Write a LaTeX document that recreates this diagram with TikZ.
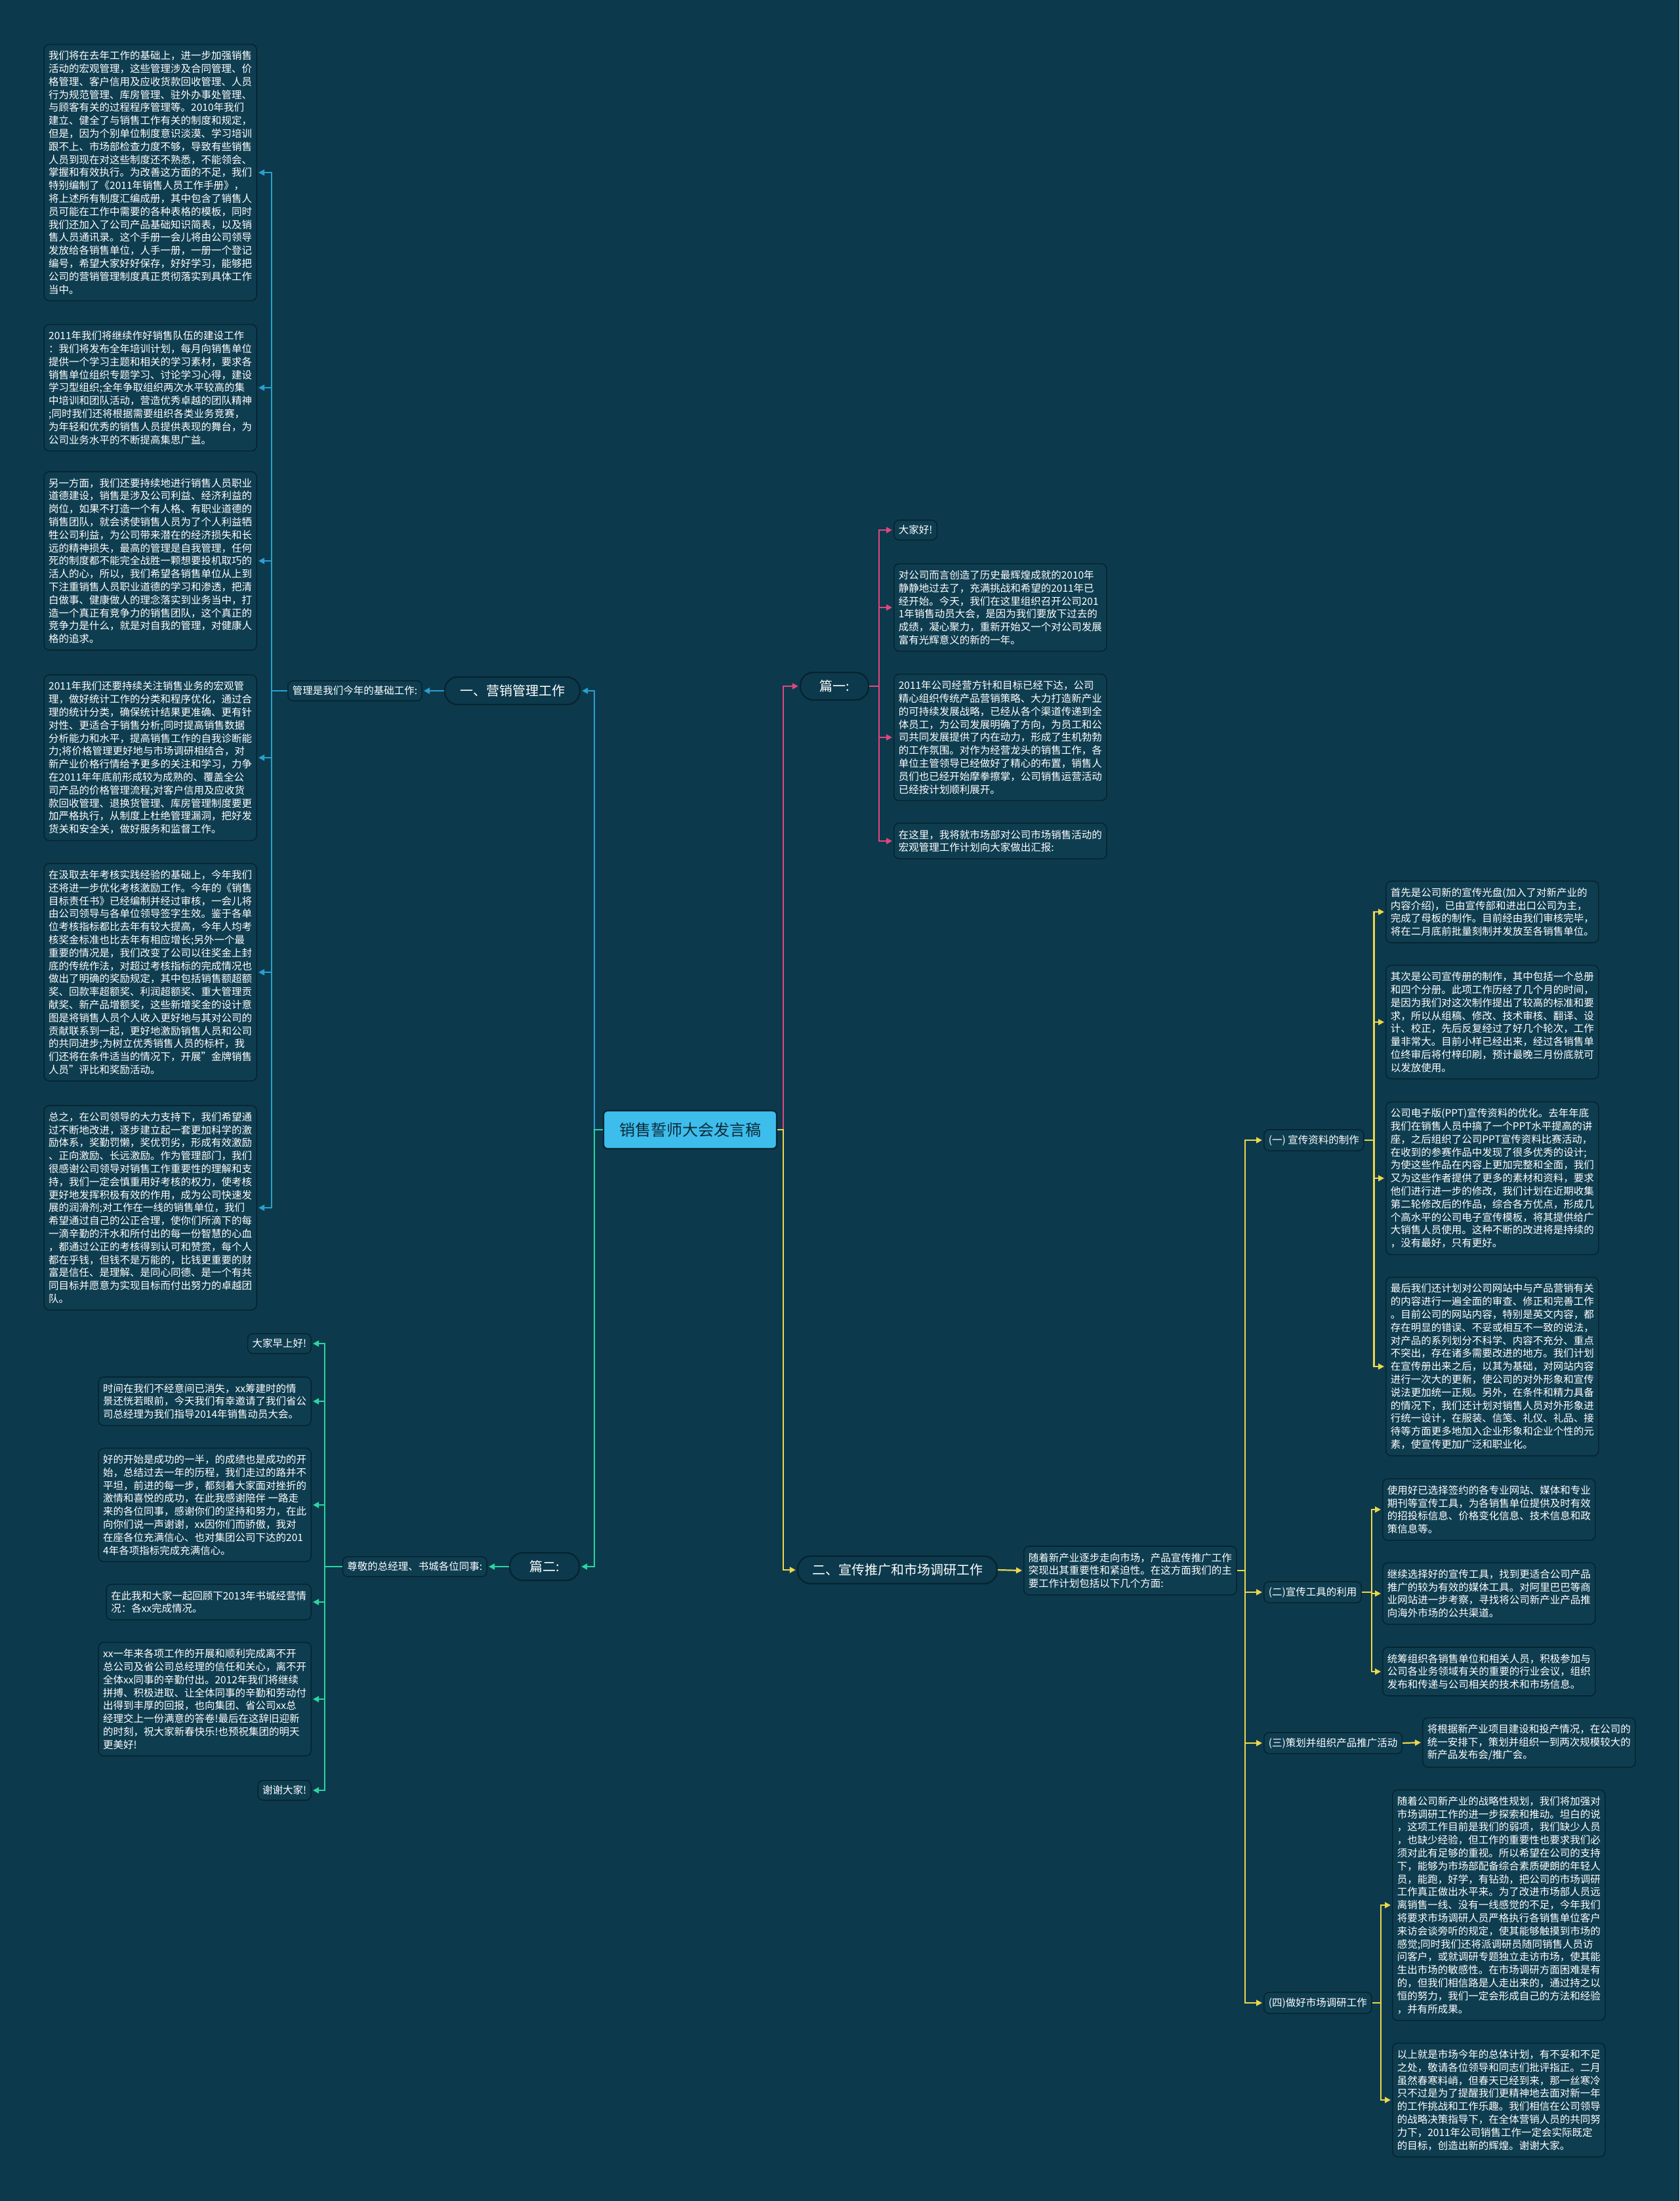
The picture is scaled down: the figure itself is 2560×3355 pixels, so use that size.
\documentclass[tikz,border=0pt]{standalone}
\usepackage{fontspec}
\setmainfont{Noto Sans CJK SC}
\usetikzlibrary{arrows.meta}
\definecolor{bgc}{HTML}{0C3A4C}
\definecolor{boxf}{HTML}{0F3D50}
\definecolor{boxd}{HTML}{072431}
\definecolor{cblue}{HTML}{2A9FD0}
\definecolor{cpink}{HTML}{E4457E}
\definecolor{cyel}{HTML}{EFD64C}
\definecolor{cgreen}{HTML}{2DD4A0}
\definecolor{cfill}{HTML}{3DBDEB}
\definecolor{ctxt}{HTML}{0D2A3A}
\begin{document}
\begin{tikzpicture}[x=0.5pt,y=-0.5pt,
 blk/.style={draw=boxd, line width=0.8pt, fill=boxf, rounded corners=4pt, text=white,
   font=\fontsize{7.75pt}{9.9pt}\selectfont, align=left, inner xsep=3.5pt, inner ysep=5pt},
 lbl/.style={blk, inner ysep=4pt},
 pill/.style={rectangle, rounded corners=10pt, draw=boxd, line width=1.2pt, fill=bgc, text=white,
   font=\fontsize{10pt}{12pt}\selectfont, minimum height=21pt, inner xsep=11pt},
 arr/.style={line width=1.1pt, -{Triangle[length=4.5pt,width=4.5pt]}, shorten >=1pt},
 pl/.style={line width=1.1pt},
]
\fill[bgc] (0,0) rectangle (2560,3355);
\useasboundingbox (0,0) rectangle (2560,3355);

% junction x positions
\coordinate (jL) at (906,0);
\coordinate (jR) at (1194,0);
\coordinate (jLeft) at (414,0);
\coordinate (jP1) at (1340,0);
\coordinate (jY) at (1898,0);
\coordinate (jG) at (495,0);

% center
\node[draw=boxd, line width=1.2pt, fill=cfill, text=ctxt, rounded corners=3pt,
  font=\fontsize{12pt}{14pt}\selectfont, minimum width=132pt, minimum height=29pt] (ctr) at (1052,1722) {销售誓师大会发言稿};

% ===== blue branch =====
\node[pill, minimum width=103pt] (yx) at (781,1053) {一、营销管理工作};
\node[lbl, anchor=east] (gl) at (644,1053) {管理是我们今年的基础工作:};

\node[blk, anchor=east] (b1) at (392,263) {我们将在去年工作的基础上，进一步加强销售\\活动的宏观管理，这些管理涉及合同管理、价\\格管理、客户信用及应收货款回收管理、人员\\行为规范管理、库房管理、驻外办事处管理、\\与顾客有关的过程程序管理等。2010年我们\\建立、健全了与销售工作有关的制度和规定，\\但是，因为个别单位制度意识淡漠、学习培训\\跟不上、市场部检查力度不够，导致有些销售\\人员到现在对这些制度还不熟悉，不能领会、\\掌握和有效执行。为改善这方面的不足，我们\\特别编制了《2011年销售人员工作手册》，\\将上述所有制度汇编成册，其中包含了销售人\\员可能在工作中需要的各种表格的模板，同时\\我们还加入了公司产品基础知识简表，以及销\\售人员通讯录。这个手册一会儿将由公司领导\\发放给各销售单位，人手一册，一册一个登记\\编号，希望大家好好保存，好好学习，能够把\\公司的营销管理制度真正贯彻落实到具体工作\\当中。};

\node[blk, anchor=east] (b2) at (392,591) {2011年我们将继续作好销售队伍的建设工作\\：我们将发布全年培训计划，每月向销售单位\\提供一个学习主题和相关的学习素材，要求各\\销售单位组织专题学习、讨论学习心得，建设\\学习型组织;全年争取组织两次水平较高的集\\中培训和团队活动，营造优秀卓越的团队精神\\;同时我们还将根据需要组织各类业务竞赛，\\为年轻和优秀的销售人员提供表现的舞台，为\\公司业务水平的不断提高集思广益。};

\node[blk, anchor=east] (b3) at (392,855) {另一方面，我们还要持续地进行销售人员职业\\道德建设，销售是涉及公司利益、经济利益的\\岗位，如果不打造一个有人格、有职业道德的\\销售团队，就会诱使销售人员为了个人利益牺\\牲公司利益，为公司带来潜在的经济损失和长\\远的精神损失，最高的管理是自我管理，任何\\死的制度都不能完全战胜一颗想要投机取巧的\\活人的心，所以，我们希望各销售单位从上到\\下注重销售人员职业道德的学习和渗透，把清\\白做事、健康做人的理念落实到业务当中，打\\造一个真正有竞争力的销售团队，这个真正的\\竞争力是什么，就是对自我的管理，对健康人\\格的追求。};

\node[blk, anchor=east] (b4) at (392,1155) {2011年我们还要持续关注销售业务的宏观管\\理，做好统计工作的分类和程序优化，通过合\\理的统计分类，确保统计结果更准确、更有针\\对性、更适合于销售分析;同时提高销售数据\\分析能力和水平，提高销售工作的自我诊断能\\力;将价格管理更好地与市场调研相结合，对\\新产业价格行情给予更多的关注和学习，力争\\在2011年年底前形成较为成熟的、覆盖全公\\司产品的价格管理流程;对客户信用及应收货\\款回收管理、退换货管理、库房管理制度要更\\加严格执行，从制度上杜绝管理漏洞，把好发\\货关和安全关，做好服务和监督工作。};

\node[blk, anchor=east] (b5) at (392,1482) {在汲取去年考核实践经验的基础上，今年我们\\还将进一步优化考核激励工作。今年的《销售\\目标责任书》已经编制并经过审核，一会儿将\\由公司领导与各单位领导签字生效。鉴于各单\\位考核指标都比去年有较大提高，今年人均考\\核奖金标准也比去年有相应增长;另外一个最\\重要的情况是，我们改变了公司以往奖金上封\\底的传统作法，对超过考核指标的完成情况也\\做出了明确的奖励规定，其中包括销售额超额\\奖、回款率超额奖、利润超额奖、重大管理贡\\献奖、新产品增额奖，这些新增奖金的设计意\\图是将销售人员个人收入更好地与其对公司的\\贡献联系到一起，更好地激励销售人员和公司\\的共同进步;为树立优秀销售人员的标杆，我\\们还将在条件适当的情况下，开展"金牌销售\\人员"评比和奖励活动。};

\node[blk, anchor=east] (b6) at (392,1841) {总之，在公司领导的大力支持下，我们希望通\\过不断地改进，逐步建立起一套更加科学的激\\励体系，奖勤罚懒，奖优罚劣，形成有效激励\\、正向激励、长远激励。作为管理部门，我们\\很感谢公司领导对销售工作重要性的理解和支\\持，我们一定会慎重用好考核的权力，使考核\\更好地发挥积极有效的作用，成为公司快速发\\展的润滑剂;对工作在一线的销售单位，我们\\希望通过自己的公正合理，使你们所滴下的每\\一滴辛勤的汗水和所付出的每一份智慧的心血\\，都通过公正的考核得到认可和赞赏，每个人\\都在乎钱，但钱不是万能的，比钱更重要的财\\富是信任、是理解、是同心同德、是一个有共\\同目标并愿意为实现目标而付出努力的卓越团\\队。};

\draw[arr, cblue] (ctr.west) -- (ctr.west -| jL) |- (yx.east);
\draw[arr, cblue] (yx.west) -- (gl.east);
\draw[pl, cblue] (gl.west) -- (gl.west -| jLeft);
\draw[arr, cblue] (gl.west -| jLeft) |- (b1.east);
\draw[arr, cblue] (gl.west -| jLeft) |- (b2.east);
\draw[arr, cblue] (gl.west -| jLeft) |- (b3.east);
\draw[arr, cblue] (gl.west -| jLeft) |- (b4.east);
\draw[arr, cblue] (gl.west -| jLeft) |- (b5.east);
\draw[arr, cblue] (gl.west -| jLeft) |- (b6.east);

% ===== pink branch =====
\node[pill, minimum width=52pt] (p1) at (1272,1046) {篇一:};
\node[lbl, anchor=west] (c1) at (1362,808) {大家好!};
\node[blk, anchor=west] (c2) at (1362,926) {对公司而言创造了历史最辉煌成就的2010年\\静静地过去了，充满挑战和希望的2011年已\\经开始。今天，我们在这里组织召开公司201\\1年销售动员大会，是因为我们要放下过去的\\成绩，凝心聚力，重新开始又一个对公司发展\\富有光辉意义的新的一年。};
\node[blk, anchor=west] (c3) at (1362,1124) {2011年公司经营方针和目标已经下达，公司\\精心组织传统产品营销策略、大力打造新产业\\的可持续发展战略，已经从各个渠道传递到全\\体员工，为公司发展明确了方向，为员工和公\\司共同发展提供了内在动力，形成了生机勃勃\\的工作氛围。对作为经营龙头的销售工作，各\\单位主管领导已经做好了精心的布置，销售人\\员们也已经开始摩拳擦掌，公司销售运营活动\\已经按计划顺利展开。};
\node[blk, anchor=west] (c4) at (1362,1282) {在这里，我将就市场部对公司市场销售活动的\\宏观管理工作计划向大家做出汇报:};

\draw[arr, cpink] (ctr.east) -- (ctr.east -| jR) |- (p1.west);
\draw[pl, cpink] (p1.east) -- (p1.east -| jP1);
\draw[arr, cpink] (p1.east -| jP1) |- (c1.west);
\draw[arr, cpink] (p1.east -| jP1) |- (c2.west);
\draw[arr, cpink] (p1.east -| jP1) |- (c3.west);
\draw[arr, cpink] (p1.east -| jP1) |- (c4.west);

% ===== yellow branch =====
\node[pill, minimum width=152pt] (er) at (1368,2393) {二、宣传推广和市场调研工作};
\node[blk, anchor=west] (sz) at (1560,2394) {随着新产业逐步走向市场，产品宣传推广工作\\突现出其重要性和紧迫性。在这方面我们的主\\要工作计划包括以下几个方面:};

\node[lbl, anchor=west] (l1) at (1926,1738) {(一) 宣传资料的制作};
\node[lbl, anchor=west] (l2) at (1926,2427) {(二)宣传工具的利用};
\node[lbl, anchor=west] (l3) at (1926,2657) {(三)策划并组织产品推广活动};
\node[lbl, anchor=west] (l4) at (1926,3053) {(四)做好市场调研工作};

\node[blk, anchor=west] (r1) at (2112,1390) {首先是公司新的宣传光盘(加入了对新产业的\\内容介绍)，已由宣传部和进出口公司为主，\\完成了母板的制作。目前经由我们审核完毕，\\将在二月底前批量刻制并发放至各销售单位。};
\node[blk, anchor=west] (r2) at (2112,1558) {其次是公司宣传册的制作，其中包括一个总册\\和四个分册。此项工作历经了几个月的时间，\\是因为我们对这次制作提出了较高的标准和要\\求，所以从组稿、修改、技术审核、翻译、设\\计、校正，先后反复经过了好几个轮次，工作\\量非常大。目前小样已经出来，经过各销售单\\位终审后将付梓印刷，预计最晚三月份底就可\\以发放使用。};
\node[blk, anchor=west] (r3) at (2112,1796) {公司电子版(PPT)宣传资料的优化。去年年底\\我们在销售人员中搞了一个PPT水平提高的讲\\座，之后组织了公司PPT宣传资料比赛活动，\\在收到的参赛作品中发现了很多优秀的设计;\\为使这些作品在内容上更加完整和全面，我们\\又为这些作者提供了更多的素材和资料，要求\\他们进行进一步的修改，我们计划在近期收集\\第二轮修改后的作品，综合各方优点，形成几\\个高水平的公司电子宣传模板，将其提供给广\\大销售人员使用。这种不断的改进将是持续的\\，没有最好，只有更好。};
\node[blk, anchor=west] (r4) at (2112,2083) {最后我们还计划对公司网站中与产品营销有关\\的内容进行一遍全面的审查、修正和完善工作\\。目前公司的网站内容，特别是英文内容，都\\存在明显的错误、不妥或相互不一致的说法，\\对产品的系列划分不科学、内容不充分、重点\\不突出，存在诸多需要改进的地方。我们计划\\在宣传册出来之后，以其为基础，对网站内容\\进行一次大的更新，使公司的对外形象和宣传\\说法更加统一正规。另外，在条件和精力具备\\的情况下，我们还计划对销售人员对外形象进\\行统一设计，在服装、信笺、礼仪、礼品、接\\待等方面更多地加入企业形象和企业个性的元\\素，使宣传更加广泛和职业化。};

\node[blk, anchor=west] (t1) at (2107,2301) {使用好已选择签约的各专业网站、媒体和专业\\期刊等宣传工具，为各销售单位提供及时有效\\的招投标信息、价格变化信息、技术信息和政\\策信息等。};
\node[blk, anchor=west] (t2) at (2107,2429) {继续选择好的宣传工具，找到更适合公司产品\\推广的较为有效的媒体工具。对阿里巴巴等商\\业网站进一步考察，寻找将公司新产业产品推\\向海外市场的公共渠道。};
\node[blk, anchor=west] (t3) at (2107,2548) {统筹组织各销售单位和相关人员，积极参加与\\公司各业务领域有关的重要的行业会议，组织\\发布和传递与公司相关的技术和市场信息。};

\node[blk, anchor=west] (s1) at (2168,2656) {将根据新产业项目建设和投产情况，在公司的\\统一安排下，策划并组织一到两次规模较大的\\新产品发布会/推广会。};

\node[blk, anchor=west] (m1) at (2122,2904) {随着公司新产业的战略性规划，我们将加强对\\市场调研工作的进一步探索和推动。坦白的说\\，这项工作目前是我们的弱项，我们缺少人员\\，也缺少经验，但工作的重要性也要求我们必\\须对此有足够的重视。所以希望在公司的支持\\下，能够为市场部配备综合素质硬朗的年轻人\\员，能跑，好学，有钻劲，把公司的市场调研\\工作真正做出水平来。为了改进市场部人员远\\离销售一线、没有一线感觉的不足，今年我们\\将要求市场调研人员严格执行各销售单位客户\\来访会谈旁听的规定，使其能够触摸到市场的\\感觉;同时我们还将派调研员随同销售人员访\\问客户，或就调研专题独立走访市场，使其能\\生出市场的敏感性。在市场调研方面困难是有\\的，但我们相信路是人走出来的，通过持之以\\恒的努力，我们一定会形成自己的方法和经验\\，并有所成果。};
\node[blk, anchor=west] (m2) at (2122,3201) {以上就是市场今年的总体计划，有不妥和不足\\之处，敬请各位领导和同志们批评指正。二月\\虽然春寒料峭，但春天已经到来，那一丝寒冷\\只不过是为了提醒我们更精神地去面对新一年\\的工作挑战和工作乐趣。我们相信在公司领导\\的战略决策指导下，在全体营销人员的共同努\\力下，2011年公司销售工作一定会实际既定\\的目标，创造出新的辉煌。谢谢大家。};

\draw[arr, cyel] (ctr.east) -- (ctr.east -| jR) |- (er.west);
\draw[arr, cyel] (er.east) -- (sz.west);
\draw[pl, cyel] (sz.east) -- (sz.east -| jY);
\draw[arr, cyel] (sz.east -| jY) |- (l1.west);
\draw[arr, cyel] (sz.east -| jY) |- (l2.west);
\draw[arr, cyel] (sz.east -| jY) |- (l3.west);
\draw[arr, cyel] (sz.east -| jY) |- (l4.west);

\draw[pl, cyel] (l1.east) -- ([xshift=7.5pt]l1.east);
\draw[arr, cyel] ([xshift=7.5pt]l1.east) |- (r1.west);
\draw[arr, cyel] ([xshift=7.5pt]l1.east) |- (r2.west);
\draw[arr, cyel] ([xshift=7.5pt]l1.east) |- (r3.west);
\draw[arr, cyel] ([xshift=7.5pt]l1.east) |- (r4.west);

\draw[pl, cyel] (l2.east) -- ([xshift=7.5pt]l2.east);
\draw[arr, cyel] ([xshift=7.5pt]l2.east) |- (t1.west);
\draw[arr, cyel] ([xshift=7.5pt]l2.east) |- (t2.west);
\draw[arr, cyel] ([xshift=7.5pt]l2.east) |- (t3.west);

\draw[arr, cyel] (l3.east) -- (s1.west);

\draw[pl, cyel] (l4.east) -- ([xshift=6.5pt]l4.east);
\draw[arr, cyel] ([xshift=6.5pt]l4.east) |- (m1.west);
\draw[arr, cyel] ([xshift=6.5pt]l4.east) |- (m2.west);

% ===== green branch =====
\node[pill, minimum width=53pt] (p2) at (830,2388) {篇二:};
\node[lbl, anchor=east] (zj) at (743,2388) {尊敬的总经理、书城各位同事:};

\node[lbl, anchor=east] (q1) at (475,2048) {大家早上好!};
\node[blk, anchor=east] (q2) at (475,2136) {时间在我们不经意间已消失，xx筹建时的情\\景还恍若眼前，今天我们有幸邀请了我们省公\\司总经理为我们指导2014年销售动员大会。};
\node[blk, anchor=east] (q3) at (475,2294) {好的开始是成功的一半，的成绩也是成功的开\\始，总结过去一年的历程，我们走过的路并不\\平坦，前进的每一步，都刻着大家面对挫折的\\激情和喜悦的成功，在此我感谢陪伴\ 一路走\\来的各位同事，感谢你们的坚持和努力，在此\\向你们说一声谢谢，xx因你们而骄傲，我对\\在座各位充满信心、也对集团公司下达的201\\4年各项指标完成充满信心。};
\node[blk, anchor=east] (q4) at (475,2442) {在此我和大家一起回顾下2013年书城经营情\\况：各xx完成情况。};
\node[blk, anchor=east] (q5) at (475,2590) {xx一年来各项工作的开展和顺利完成离不开\\总公司及省公司总经理的信任和关心，离不开\\全体xx同事的辛勤付出。2012年我们将继续\\拼搏、积极进取、让全体同事的辛勤和劳动付\\出得到丰厚的回报，也向集团、省公司xx总\\经理交上一份满意的答卷!最后在这辞旧迎新\\的时刻，祝大家新春快乐!也预祝集团的明天\\更美好!};
\node[lbl, anchor=east] (q6) at (475,2729) {谢谢大家!};

\draw[arr, cgreen] (ctr.west) -- (ctr.west -| jL) |- (p2.east);
\draw[arr, cgreen] (p2.west) -- (zj.east);
\draw[pl, cgreen] (zj.west) -- (zj.west -| jG);
\draw[arr, cgreen] (zj.west -| jG) |- (q1.east);
\draw[arr, cgreen] (zj.west -| jG) |- (q2.east);
\draw[arr, cgreen] (zj.west -| jG) |- (q3.east);
\draw[arr, cgreen] (zj.west -| jG) |- (q4.east);
\draw[arr, cgreen] (zj.west -| jG) |- (q5.east);
\draw[arr, cgreen] (zj.west -| jG) |- (q6.east);
\end{tikzpicture}
\end{document}
